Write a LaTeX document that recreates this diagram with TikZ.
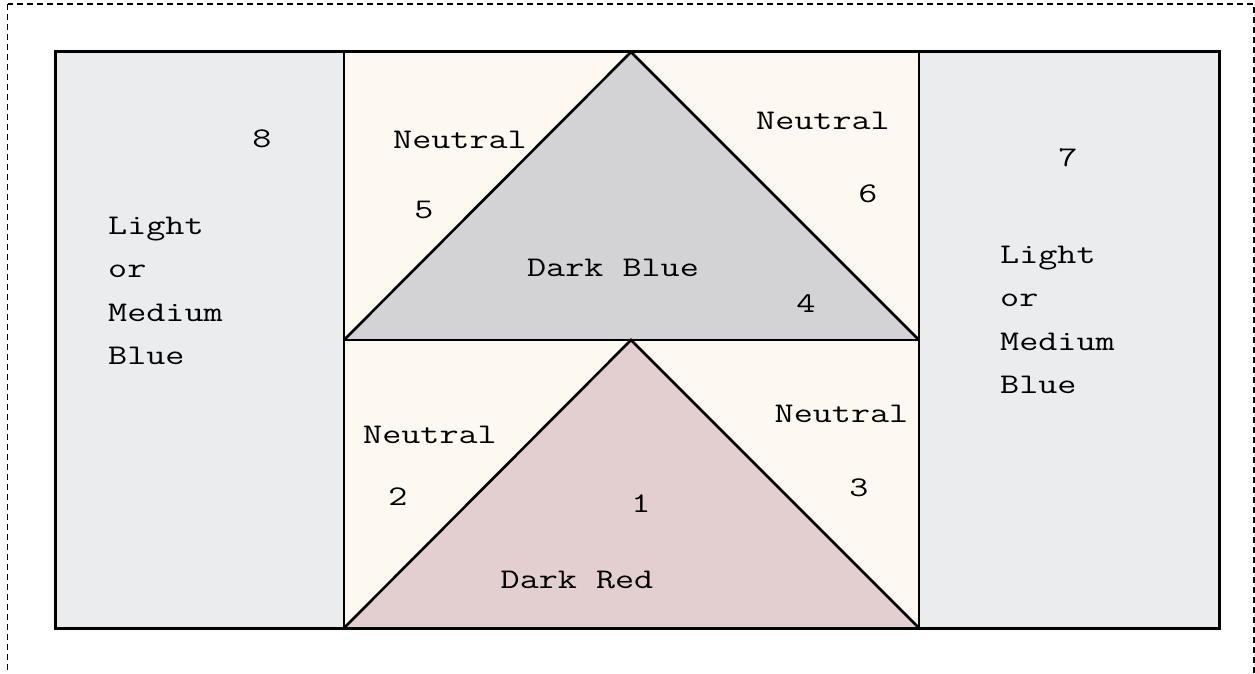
\documentclass[tikz,border=0pt]{standalone}
\usepackage{fontspec}
\newfontfamily\monof[FakeStretch=1.3]{Latin Modern Mono}
\definecolor{sideblue}{RGB}{235,236,238}
\definecolor{neutralc}{RGB}{253,248,242}
\definecolor{darkbluec}{RGB}{211,211,214}
\definecolor{darkredc}{RGB}{227,207,207}
\tikzset{
  lbl/.style={font=\monof\fontsize{28.5}{33}\selectfont, inner sep=0pt, anchor=base},
  lblw/.style={lbl, anchor=base west},
  edge/.style={line width=2.6pt, line join=miter},
  frame/.style={line width=3pt},
}
\begin{document}
\begin{tikzpicture}[x=1pt,y=-1pt]
\useasboundingbox (0,0) rectangle (1255,674);
\draw[dashed, line width=1.3pt, dash pattern=on 6pt off 4pt] (7.5,4) rectangle (1254,720);
% side panels
\fill[sideblue] (55,52) rectangle (344,628);
\fill[sideblue] (919,52) rectangle (1219,628);
\fill[neutralc] (344,52) rectangle (919,628);
% coordinates
\coordinate (tl) at (344,52);
\coordinate (tr) at (919,52);
\coordinate (ml) at (344,340);
\coordinate (mr) at (919,340);
\coordinate (bl) at (344,628);
\coordinate (br) at (919,628);
\coordinate (apex1) at (631,52);
\coordinate (apex2) at (631,340);
% triangles
\fill[darkbluec] (ml) -- (apex1) -- (mr) -- cycle;
\fill[darkredc] (bl) -- (apex2) -- (br) -- cycle;
\draw[edge] (ml) -- (apex1) -- (mr);
\draw[edge] (bl) -- (apex2) -- (br);
\draw[edge] (ml) -- (mr);
\draw[edge] (tl) -- (bl);
\draw[edge] (tr) -- (br);
\draw[frame] (55,52) rectangle (1219,628);
% labels
\node[lbl] (n8) at (262,147) {8};
\node[lblw] (l1) at (108,234) {Light};
\node[lblw] (l2) at (108,277.5) {or};
\node[lblw] (l3) at (108,321) {Medium};
\node[lblw] (l4) at (108,364.5) {Blue};
\node[lbl] (ntl) at (460,148) {Neutral};
\node[lbl] (n5) at (424,218) {5};
\node[lbl] (dblue) at (613,276) {Dark Blue};
\node[lbl] (ntr) at (823,129) {Neutral};
\node[lbl] (n6) at (868,202) {6};
\node[lbl] (n4) at (806,312) {4};
\node[lbl] (n7) at (1068,166) {7};
\node[lblw] (r1) at (1000,263) {Light};
\node[lblw] (r2) at (1000,306.5) {or};
\node[lblw] (r3) at (1000,350) {Medium};
\node[lblw] (r4) at (1000,393.5) {Blue};
\node[lbl] (nbl) at (430,443) {Neutral};
\node[lbl] (n2) at (398,505) {2};
\node[lbl] (n1) at (641,512) {1};
\node[lbl] (dred) at (577,588) {Dark Red};
\node[lbl] (nbr) at (841.5,422) {Neutral};
\node[lbl] (n3) at (859,496) {3};
\end{tikzpicture}
\end{document}
